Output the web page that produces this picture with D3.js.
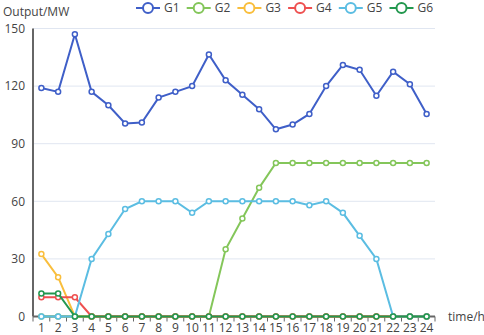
<!DOCTYPE html>
<html>
<head>
<meta charset="utf-8">
<script src="https://cdn.jsdelivr.net/npm/d3@7"></script>
<style>
  body { margin: 0; background: #fff; }
  svg { font-family: "Open Sans", "Noto Sans", sans-serif; }
</style>
</head>
<body>
<svg id="chart" width="484" height="335"></svg>
<script>
const hours = d3.range(1, 25).map(String);
const yTicks = [0, 30, 60, 90, 120, 150];
const seriesNames = ["G1", "G2", "G3", "G4", "G5", "G6"];
const seriesColors = ["#3f5fc8", "#84c65a", "#f9be3c", "#ee5050", "#5bbde2", "#23984f"];

const g1 = [119, 117, 147, 117, 110, 100.5, 101, 114, 117, 120, 136.5, 123, 115.5, 108, 97.5, 100, 105.5, 120, 131, 128.5, 115, 127.5, 121, 105.5];
const g2 = [0, 0, 0, 0, 0, 0, 0, 0, 0, 0, 0, 35, 51, 67, 80, 80, 80, 80, 80, 80, 80, 80, 80, 80];
const g3 = [32.5, 20.5, 0, 0, 0, 0, 0, 0, 0, 0, 0, 0, 0, 0, 0, 0, 0, 0, 0, 0, 0, 0, 0, 0];
const g4 = [10, 10, 10, 0, 0, 0, 0, 0, 0, 0, 0, 0, 0, 0, 0, 0, 0, 0, 0, 0, 0, 0, 0, 0];
const g5 = [0, 0, 0, 30, 43, 56, 60, 60, 60, 54, 60, 60, 60, 60, 60, 60, 58, 60, 54, 42, 30, 0, 0, 0];
const g6 = [12, 12, 0, 0, 0, 0, 0, 0, 0, 0, 0, 0, 0, 0, 0, 0, 0, 0, 0, 0, 0, 0, 0, 0];
const allSeries = [g1, g2, g3, g4, g5, g6];

const svg = d3.select("#chart");
const plotL = 33, plotR = 435, plotT = 28.5, plotB = 316.5;

const x = d3.scaleBand().domain(hours).range([plotL, plotR]);
const y = d3.scaleLinear().domain([0, 150]).range([plotB, plotT]);

// grid lines
svg.append("g")
  .selectAll("line")
  .data(yTicks.filter(d => d > 0))
  .enter()
  .append("line")
  .attr("x1", plotL).attr("x2", plotR)
  .attr("y1", d => y(d)).attr("y2", d => y(d))
  .attr("stroke", "#e0e6f1")
  .attr("stroke-width", 1);

// y axis labels + line
svg.append("g")
  .selectAll("text")
  .data(yTicks)
  .enter()
  .append("text")
  .attr("x", plotL - 8)
  .attr("y", d => y(d))
  .attr("dy", "0.35em")
  .attr("text-anchor", "end")
  .attr("font-size", 12)
  .attr("fill", "#444")
  .text(d => d);

svg.append("line")
  .attr("x1", plotL).attr("x2", plotL)
  .attr("y1", plotT).attr("y2", plotB)
  .attr("stroke", "#666").attr("stroke-width", 2);

// x axis
const xAxis = svg.append("g").attr("transform", `translate(0,${plotB})`);
xAxis.append("line")
  .attr("x1", plotL).attr("x2", plotR)
  .attr("stroke", "#666").attr("stroke-width", 2);
xAxis.selectAll(".tick")
  .data(d3.range(0, 25))
  .enter()
  .append("line")
  .attr("class", "tick")
  .attr("x1", i => plotL + i * x.bandwidth())
  .attr("x2", i => plotL + i * x.bandwidth())
  .attr("y1", 0).attr("y2", 5)
  .attr("stroke", "#666").attr("stroke-width", 1);
xAxis.selectAll("text")
  .data(hours)
  .enter()
  .append("text")
  .attr("x", d => x(d) + x.bandwidth() / 2)
  .attr("y", 15)
  .attr("text-anchor", "middle")
  .attr("font-size", 12)
  .attr("fill", "#444")
  .text(d => d);

svg.append("text")
  .attr("x", 448).attr("y", plotB)
  .attr("dy", "0.35em")
  .attr("font-size", 12)
  .attr("fill", "#444")
  .text("time/h");

svg.append("text")
  .attr("x", 3).attr("y", 12)
  .attr("dy", "0.35em")
  .attr("font-size", 12)
  .attr("fill", "#444")
  .text("Output/MW");

// series
const line = d3.line()
  .x((d, i) => x(hours[i]) + x.bandwidth() / 2)
  .y(d => y(d));

allSeries.forEach((vals, si) => {
  const g = svg.append("g");
  g.append("path")
    .datum(vals)
    .attr("d", line)
    .attr("fill", "none")
    .attr("stroke", seriesColors[si])
    .attr("stroke-width", 2);
  g.selectAll("circle")
    .data(vals)
    .enter()
    .append("circle")
    .attr("cx", (d, i) => x(hours[i]) + x.bandwidth() / 2)
    .attr("cy", d => y(d))
    .attr("r", 2.5)
    .attr("fill", "#fff")
    .attr("stroke", seriesColors[si])
    .attr("stroke-width", 1.5);
});

// legend
const legend = svg.append("g")
  .selectAll("g")
  .data(seriesNames)
  .enter()
  .append("g")
  .attr("transform", (d, i) => `translate(${136 + i * 50.7},8)`);
legend.append("line")
  .attr("x1", 0).attr("x2", 24)
  .attr("stroke", (d, i) => seriesColors[i])
  .attr("stroke-width", 2);
legend.append("circle")
  .attr("cx", 12).attr("r", 5)
  .attr("fill", "#fff")
  .attr("stroke", (d, i) => seriesColors[i])
  .attr("stroke-width", 2);
legend.append("text")
  .attr("x", 28)
  .attr("dy", "0.35em")
  .attr("font-size", 12)
  .attr("fill", "#444")
  .text(d => d);
</script>
</body>
</html>
